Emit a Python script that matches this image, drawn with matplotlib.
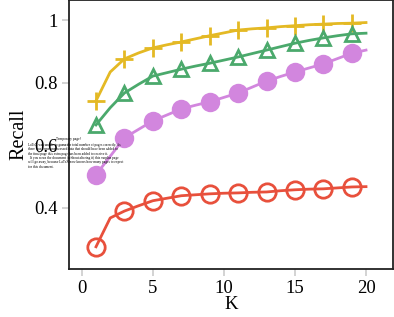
import numpy as np
import matplotlib
matplotlib.use("Agg")
import matplotlib.pyplot as plt

plt.rcParams['font.family'] = ['Liberation Serif', 'DejaVu Serif']

# Recall at K = 1..20
k = list(range(1, 21))
yellow = [0.742, 0.834, 0.876, 0.895, 0.911, 0.921, 0.930, 0.940, 0.950, 0.959,
          0.968, 0.972, 0.975, 0.979, 0.982, 0.985, 0.987, 0.989, 0.990, 0.992]
green = [0.665, 0.720, 0.767, 0.795, 0.821, 0.832, 0.843, 0.853, 0.862, 0.872,
         0.882, 0.893, 0.904, 0.915, 0.926, 0.935, 0.943, 0.950, 0.956, 0.958]
purple = [0.506, 0.565, 0.624, 0.651, 0.678, 0.697, 0.716, 0.728, 0.739, 0.753,
          0.767, 0.786, 0.805, 0.820, 0.834, 0.847, 0.860, 0.877, 0.894, 0.904]
red = [0.276, 0.368, 0.390, 0.407, 0.423, 0.431, 0.439, 0.442, 0.445, 0.447,
       0.448, 0.450, 0.451, 0.455, 0.458, 0.460, 0.461, 0.464, 0.467, 0.468]

xticks = [0, 5, 10, 15, 20]
yticks = [0.4, 0.6, 0.8, 1.0]
ytick_labels = ['0.4', '0.6', '0.8', '1']

temp_title = "Temporary page!"
temp_body = ("LaTeX was unable to guess the total number of pages correctly. As\n"
             "there was some unprocessed data that should have been added to\n"
             "the final page this extra page has been added to receive it.\n"
             "  If you rerun the document (without altering it) this surplus page\n"
             "will go away, because LaTeX now knows how many pages to expect\n"
             "for this document.")

fig = plt.figure(figsize=(3.94, 3.17), dpi=100)
ax = fig.add_axes([69 / 394, 48 / 317, 324 / 394, 269 / 317])

lw = 2.0
ax.plot(k, yellow, color='#e4b924', lw=lw, marker='+', markersize=13,
        markeredgewidth=2.0, markevery=2)
ax.plot(k, green, color='#4ba96c', lw=lw, marker='^', markersize=10,
        markerfacecolor='none', markeredgewidth=2.0, markevery=2)
ax.plot(k, purple, color='#d286de', lw=lw, marker='o', markersize=14,
        markeredgewidth=0, markevery=2)
ax.plot(k, red, color='#e8503c', lw=lw, marker='o', markersize=12.5,
        markerfacecolor='none', markeredgewidth=2.0, markevery=2)

ax.set_xlim(-0.9, 21.9)
ax.set_ylim(0.205, 1.064)
ax.set_xticks(xticks)
ax.set_yticks(yticks)
ax.set_yticklabels(ytick_labels)
ax.tick_params(axis='both', color='#cccccc', length=5, width=1.2,
               labelsize=13.5, pad=3)
for s in ax.spines.values():
    s.set_color('#222222')
    s.set_linewidth(1.3)

ax.set_xlabel('K', fontsize=13.5, labelpad=-1)
ax.set_ylabel('Recall', fontsize=14.5, labelpad=4)

fig.text(68 / 394, 1 - 139 / 317, temp_title, fontsize=2.6, ha='center', va='center')
fig.text(28 / 394, 1 - 143 / 317, temp_body, fontsize=2.5, ha='left', va='top',
         linespacing=1.1)

fig.savefig('out.png', dpi=100)
